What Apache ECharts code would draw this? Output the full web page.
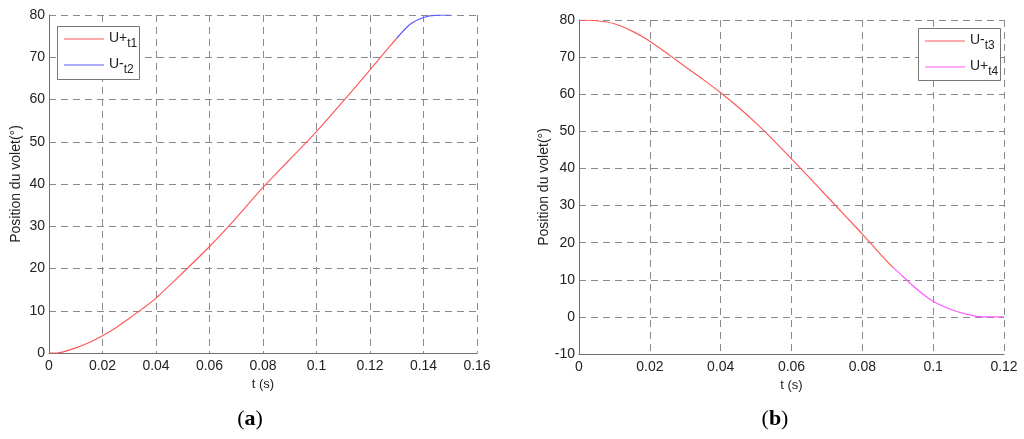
<!DOCTYPE html>
<html>
<head>
<meta charset="utf-8">
<script src="https://cdn.jsdelivr.net/npm/echarts@6/dist/echarts.min.js"></script>
<style>
html,body{margin:0;padding:0;background:#fff;}
#c{width:1024px;height:439px;}
</style>
</head>
<body>
<div id="c"></div>
<script>
// ---- Data (a) ----
var tA1 = [0, 0.003, 0.005, 0.01, 0.015, 0.02, 0.025, 0.03, 0.035, 0.04, 0.05, 0.06, 0.07, 0.08, 0.09, 0.1, 0.11, 0.12, 0.125, 0.13];
var vA1 = [0, 0, 0.2, 1.2, 2.5, 4.1, 6.0, 8.2, 10.5, 13.0, 19.0, 25.2, 32.0, 39.2, 45.8, 52.4, 59.6, 67.0, 70.8, 74.5];
var tA2 = [0.13, 0.135, 0.14, 0.145, 0.15];
var vA2 = [74.5, 77.8, 79.4, 79.95, 80];
// ---- Data (b) ----
var tB1 = [0, 0.005, 0.01, 0.015, 0.02, 0.026, 0.03, 0.035, 0.04, 0.045, 0.05, 0.055, 0.06, 0.065, 0.07, 0.075, 0.08, 0.085, 0.0888];
var vB1 = [80, 79.8, 79.0, 77.0, 74.3, 70.2, 67.4, 64.0, 60.4, 56.5, 52.2, 47.5, 42.6, 37.6, 32.5, 27.4, 22.3, 17.0, 13.2];
var tB2 = [0.0888, 0.09, 0.095, 0.1, 0.105, 0.11, 0.114, 0.12];
var vB2 = [13.2, 12.2, 7.8, 4.2, 2.0, 0.6, 0, 0];
// ---- Labels ----
var namesA = ['U+t1', 'U-t2'];
var namesB = ['U-t3', 'U+t4'];
var xNameText = 't (s)';
var yNameText = 'Position du volet(°)';
var panelLetters = ['a', 'b'];

function pairs(t, v) { return t.map(function (x, i) { return [x, v[i]]; }); }

var FONT = 'Liberation Sans';
var gridDash = { color: '#8a8a8a', type: [7, 5], width: 1 };

function xAxisCfg(idx, max) {
  return {
    gridIndex: idx, type: 'value', min: 0, max: max, interval: 0.02,
    name: xNameText, nameLocation: 'middle', nameGap: 24,
    nameTextStyle: { fontFamily: FONT, fontSize: 13, color: '#222' },
    axisLine: { show: true, onZero: false, lineStyle: { color: '#707070', width: 1 } },
    axisTick: { show: false },
    axisLabel: { fontFamily: FONT, fontSize: 14, color: '#222', margin: 6,
      formatter: function (v) { return String(+v.toFixed(2)); } },
    splitLine: { show: true, lineStyle: gridDash }
  };
}
function yAxisCfg(idx, min, gap) {
  return {
    gridIndex: idx, type: 'value', min: min, max: 80, interval: 10,
    name: yNameText, nameLocation: 'middle', nameGap: gap, nameRotate: 90,
    nameTextStyle: { fontFamily: FONT, fontSize: 14, color: '#222' },
    axisLine: { show: true, onZero: false, lineStyle: { color: '#707070', width: 1 } },
    axisTick: { show: false },
    axisLabel: { fontFamily: FONT, fontSize: 14, color: '#222', margin: 4 },
    splitLine: { show: true, lineStyle: gridDash }
  };
}
function lineSeries(name, xi, data, color) {
  return {
    name: name, type: 'line', xAxisIndex: xi, yAxisIndex: xi, data: data,
    showSymbol: false, symbol: 'none', smooth: 0.25,
    lineStyle: { color: color, width: 1.2 }, itemStyle: { color: color },
    animation: false, z: 5
  };
}
var richLeg = {
  m: { fontFamily: FONT, fontSize: 14, color: '#222', lineHeight: 16, verticalAlign: 'top' },
  s: { fontFamily: FONT, fontSize: 12, color: '#222', lineHeight: 12, padding: [7, 0, 0, 0], verticalAlign: 'top' }
};
function legendCfg(names, left, top) {
  return {
    data: names, orient: 'vertical', left: left, top: top, z: 10,
    padding: [5, 4, 5, 7], itemGap: 7, itemWidth: 40, itemHeight: 14, itemTextGap: 6,
    backgroundColor: 'transparent', borderWidth: 0,
    icon: 'path://M0,0 L40,0 L40,1 L0,1 Z',
    formatter: function (n) { return n.replace(/^(U[+-])(t\d)$/, '{m|$1}{s|$2}'); },
    textStyle: { rich: richLeg }
  };
}
function legendFrame(x, y, w, h) {
  return {
    type: 'rect', z: 3, shape: { x: x + 0.5, y: y + 0.5, width: w, height: h },
    style: { fill: '#fff', stroke: '#777', lineWidth: 1 }
  };
}

var chart = echarts.init(document.getElementById('c'), null, { renderer: 'canvas' });
chart.setOption({
  animation: false,
  backgroundColor: '#fff',
  grid: [
    { left: 49, top: 15, width: 428, height: 338, containLabel: false },
    { left: 579, top: 20, width: 425, height: 334, containLabel: false }
  ],
  xAxis: [xAxisCfg(0, 0.16), xAxisCfg(1, 0.12)],
  yAxis: [yAxisCfg(0, 0, 26), yAxisCfg(1, -10, 27)],
  legend: [legendCfg(namesA, 57, 26), legendCfg(namesB, 918, 28)],
  series: [
    lineSeries(namesA[0], 0, pairs(tA1, vA1), '#ff5a5a'),
    lineSeries(namesA[1], 0, pairs(tA2, vA2), '#5a5aff'),
    lineSeries(namesB[0], 1, pairs(tB1, vB1), '#ff5a5a'),
    lineSeries(namesB[1], 1, pairs(tB2, vB2), '#ff5aff')
  ],
  graphic: [legendFrame(57, 26, 82, 53), legendFrame(918, 28, 82, 52)].concat(panelLetters.map(function (L, i) {
    return {
      type: 'text', x: i === 0 ? 250 : 775, y: 419,
      style: {
        text: '{p|(}{b|' + L + '}{p|)}', textAlign: 'center', textVerticalAlign: 'middle',
        rich: {
          p: { fontFamily: 'Liberation Serif', fontSize: 22, color: '#111' },
          b: { fontFamily: 'Liberation Serif', fontSize: 22, fontWeight: 'bold', color: '#111' }
        }
      }
    };
  }))
});
</script>
</body>
</html>
